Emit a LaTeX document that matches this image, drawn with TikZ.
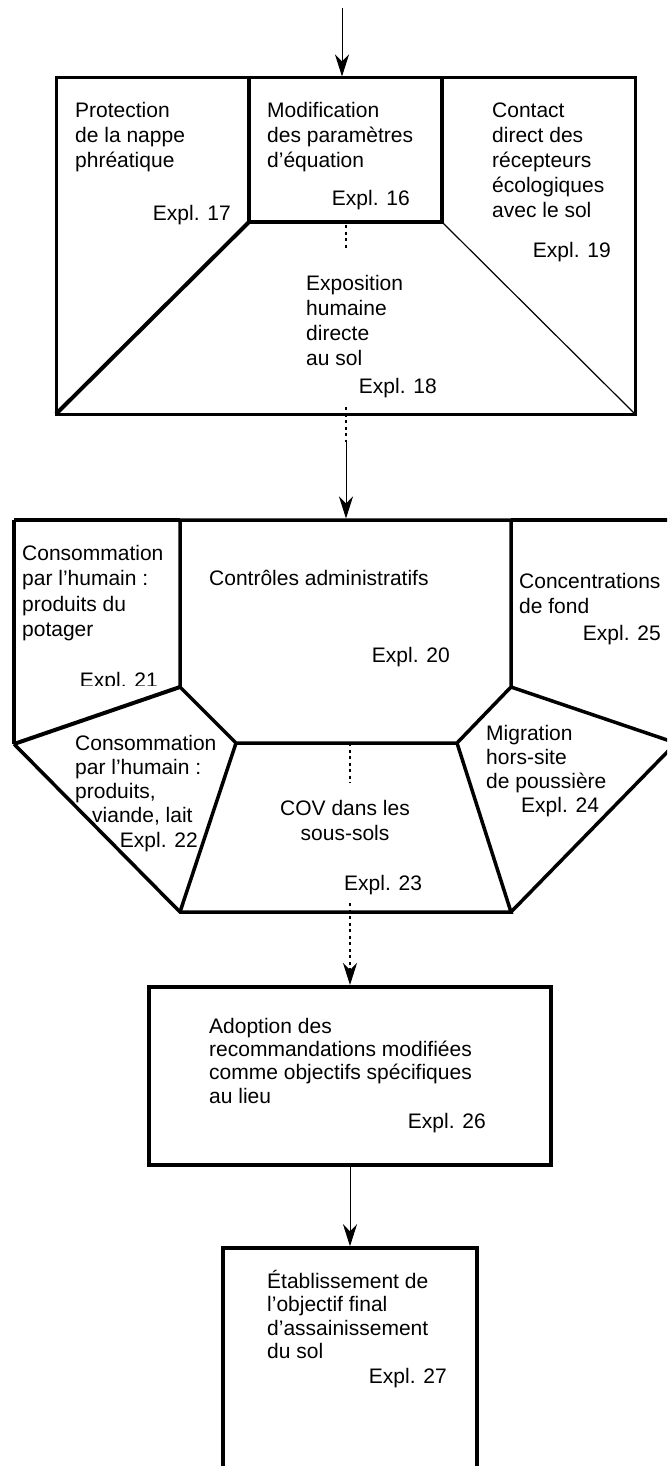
\documentclass[tikz,border=0pt]{standalone}
\usepackage{fontspec}
\setmainfont{Liberation Sans}
\usetikzlibrary{arrows.meta}
\newcommand{\mlines}[1]{\begin{tabular}[t]{@{}l@{}}#1\end{tabular}}
\newcommand{\clines}[1]{\begin{tabular}[t]{@{}c@{}}#1\end{tabular}}
\begin{document}
\begin{tikzpicture}[x=1pt,y=-1pt,
  txt/.style={anchor=base west,inner sep=0pt,font=\fontsize{21}{25}\selectfont},
  expl/.style={anchor=base east,inner sep=0pt,font=\fontsize{21}{25}\selectfont},
  thickedge/.style={line width=3.5pt,line join=miter},
  thinedge/.style={line width=1.2pt},
  arr/.style={line width=1pt,-{Stealth[length=22pt,width=14pt,inset=7pt]}},
  dotline/.style={line width=1.6pt,dash pattern=on 3pt off 3.5pt},
  boxnode/.style={draw,inner sep=0pt,line width=4pt}
]
\clip (0,0) rectangle (667,1466);
\fill[white] (0,0) rectangle (667,1466);

% ---------- top block ----------
\coordinate (TL) at (56,78);
\coordinate (TR) at (635,78);
\coordinate (BL) at (56,414);
\coordinate (BR) at (635,414);
\coordinate (IL) at (249,78);
\coordinate (IR) at (442,78);
\coordinate (ILB) at (249,222);
\coordinate (IRB) at (442,222);

\node[txt] (t17) at (75,118) {\mlines{Protection\\de la nappe\\phréatique}};
\node[expl] (e17) at (231,220) {Expl. 17};
\node[txt] (t16) at (267,118) {\mlines{Modification\\des paramètres\\d’équation}};
\node[expl] (e16) at (410,205) {Expl. 16};
\node[txt] (t19) at (492,118) {\mlines{Contact\\direct des\\récepteurs\\écologiques\\avec le sol}};
\node[expl] (e19) at (611,257) {Expl. 19};
\node[txt] (t18) at (306,290) {\mlines{Exposition\\humaine\\directe\\au sol}};
\node[expl] (e18) at (437,393) {Expl. 18};

\draw[line width=3pt] (TL) -- (TR) -- (BR) -- (BL) -- cycle;
\draw[line width=4pt,line join=miter] (IL) -- (ILB) -- (IRB) -- (IR);
\draw[line width=4pt] (ILB) -- (BL);
\draw[thinedge] (IRB) -- (BR);
\coordinate (dA1) at (346,225);
\coordinate (dA2) at (346,248);
\draw[dotline] (dA1) -- (dA2);

% ---------- middle block ----------
\coordinate (A) at (14,520);
\coordinate (B) at (180,520);
\coordinate (C) at (511,520);
\coordinate (D) at (690,520);
\coordinate (E) at (180,687);
\coordinate (F) at (511,687);
\coordinate (G) at (236,743);
\coordinate (H) at (457,743);
\coordinate (LL) at (14,744);
\coordinate (RR) at (676,743);
\coordinate (P) at (180,912);
\coordinate (Q) at (511,912);

\node[txt,font=\fontsize{21}{25.6}\selectfont] (t21) at (22,560) {\mlines{Consommation\\par l’humain :\\produits du\\potager}};
\begin{scope}
\clip (0,0) rectangle (180,685.5);
\node[expl] (e21) at (158,687) {Expl. 21};
\end{scope}
\node[txt] (t20) at (209,585) {Contrôles administratifs};
\node[expl] (e20) at (450,662) {Expl. 20};
\node[txt] (t25) at (519,588) {\mlines{Concentrations\\de fond}};
\node[expl] (e25) at (661,640) {Expl. 25};
\node[txt,font=\fontsize{21}{24.3}\selectfont] (t22) at (75,750) {\mlines{Consommation\\par l’humain :\\produits,\\\hspace{17pt}viande, lait}};
\node[expl] (e22) at (198,847) {Expl. 22};
\node[anchor=base,inner sep=0pt,font=\fontsize{21}{25}\selectfont] (t23) at (345,815) {\clines{COV dans les\\sous-sols}};
\node[txt] (e23) at (344,890) {Expl. 23};
\node[txt,font=\fontsize{21}{24}\selectfont] (t24) at (486,740) {\mlines{Migration\\hors-site\\de poussière}};
\node[txt] (e24) at (521,812) {Expl. 24};

\draw[thickedge] (A) -- (B);
\draw[thickedge] (C) -- (D);
\draw[thickedge] (A) -- (LL);
\draw[line width=4pt] (LL) -- (E);
\draw[thickedge] (B) -- (C) -- (F) -- (H) -- (G) -- (E) -- cycle;
\draw[thickedge] (F) -- (RR) -- (Q);
\draw[thickedge] (LL) -- (P) -- (Q) -- (H);
\draw[thickedge] (G) -- (P);
\coordinate (dB1) at (350,743);
\coordinate (dB2) at (350,783);
\draw[dotline] (dB1) -- (dB2);

% ---------- bottom block ----------
\node[boxnode,minimum width=402pt,minimum height=178pt] (adopt) at (350,1076) {};
\node[txt,font=\fontsize{21}{23.4}\selectfont] (t26) at (209,1033) {\mlines{Adoption des\\recommandations modifiées\\comme objectifs spécifiques\\au lieu}};
\node[expl] (e26) at (486,1128) {Expl. 26};
\node[boxnode,line width=3.5pt,minimum width=254pt,minimum height=250pt] (final) at (350,1373) {};
\node[txt,font=\fontsize{21}{23.6}\selectfont] (t27) at (267,1288) {\mlines{Établissement de\\l’objectif final\\d’assainissement\\du sol}};
\node[expl] (e27) at (447,1383) {Expl. 27};

% ---------- connectors ----------
\coordinate (s0) at (342,8);
\coordinate (in1) at (342,76.5);
\draw[arr] (s0) -- (in1);
\coordinate (d1a) at (346,407);
\coordinate (d1b) at (346,442);
\coordinate (in2) at (346,518.5);
\draw[dotline] (d1a) -- (d1b);
\draw[arr] (d1b) -- (in2);
\coordinate (d3a) at (350,903);
\draw[arr,dotline] (d3a) -- (adopt.north);
\draw[arr] (adopt.south) -- (final.north);
\end{tikzpicture}
\end{document}
